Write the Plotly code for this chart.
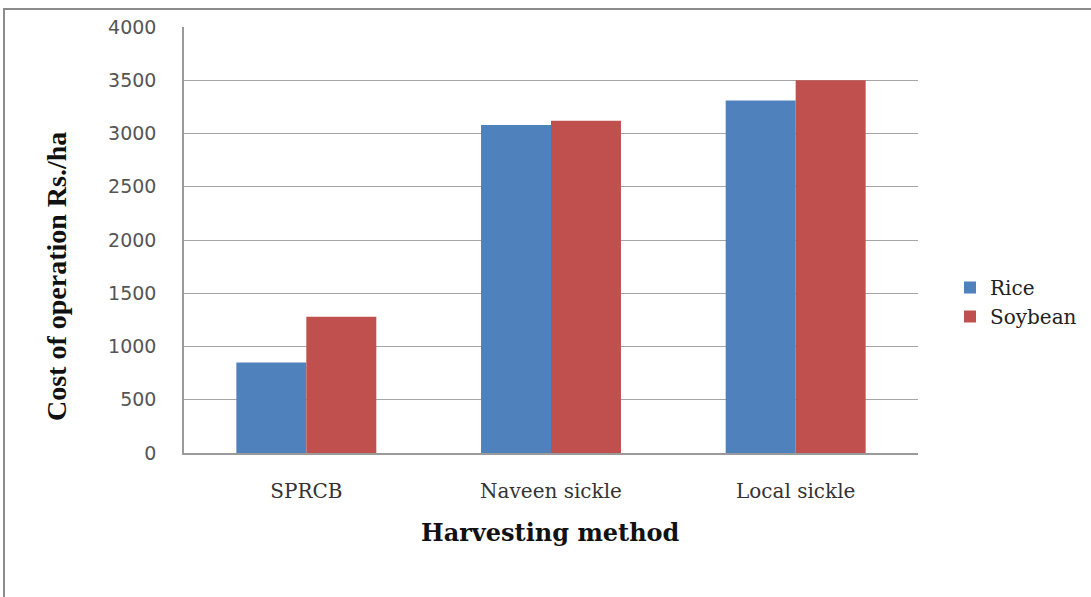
import plotly.graph_objects as go

# Harvesting methods and operating cost (Rs./ha)
methods = ["SPRCB", "Naveen sickle", "Local sickle"]
rice_cost = [850, 3080, 3310]
soybean_cost = [1280, 3120, 3500]
y_ticks = [0, 500, 1000, 1500, 2000, 2500, 3000, 3500, 4000]

W, H = 1091, 597
ML, MR, MT, MB = 184, 173, 27, 144
pw, ph = W - ML - MR, H - MT - MB

fig = go.Figure()
fig.add_trace(go.Bar(name="Rice", x=methods, y=rice_cost,
                     marker=dict(color="#4F81BD", line=dict(width=0))))
fig.add_trace(go.Bar(name="Soybean", x=methods, y=soybean_cost,
                     marker=dict(color="#C0504D", line=dict(width=0))))

def px_x(v):
    return (v - ML) / pw

def px_y(v):
    return 1 - (v - MT) / ph

fig.update_layout(
    width=W, height=H,
    margin=dict(l=ML, r=MR, t=MT, b=MB, autoexpand=False),
    paper_bgcolor="white", plot_bgcolor="white",
    barmode="group", bargap=0.428, bargroupgap=0,
    showlegend=True,
    legend=dict(x=px_x(950), y=px_y(268), xanchor="left", yanchor="top",
                font=dict(family="DejaVu Serif", size=20, color="#222222"),
                itemwidth=30, tracegroupgap=14, bgcolor="rgba(0,0,0,0)"),
    xaxis=dict(showline=True, linecolor="#9a9a9a", linewidth=1.5,
               tickfont=dict(family="DejaVu Serif", size=20, color="#333333"),
               ticks="", ticklabelstandoff=19),
    yaxis=dict(range=[0, 4000], tickvals=y_ticks, showgrid=True,
               gridcolor="#a6a6a6", gridwidth=1.2,
               showline=True, linecolor="#9a9a9a", linewidth=1.5,
               ticks="", ticklabelstandoff=22,
               tickfont=dict(family="DejaVu Sans", size=19, color="#555555")),
    annotations=[
        dict(text="<b>Cost of operation Rs./ha</b>", textangle=-90,
             xref="paper", yref="paper", x=px_x(56), y=px_y(277),
             xanchor="center", yanchor="middle", showarrow=False,
             font=dict(family="Liberation Serif", size=28, color="#111111")),
        dict(text="<b>Harvesting method</b>",
             xref="paper", yref="paper", x=px_x(550), y=px_y(532),
             xanchor="center", yanchor="middle", showarrow=False,
             font=dict(family="DejaVu Serif", size=24, color="#111111")),
    ],
    shapes=[dict(type="rect", xref="paper", yref="paper",
                 x0=px_x(4), x1=px_x(W + 10), y0=px_y(H + 10), y1=px_y(9),
                 line=dict(color="#8c8c8c", width=2), fillcolor="rgba(0,0,0,0)",
                 layer="above")],
)

fig.write_html("out.html")
